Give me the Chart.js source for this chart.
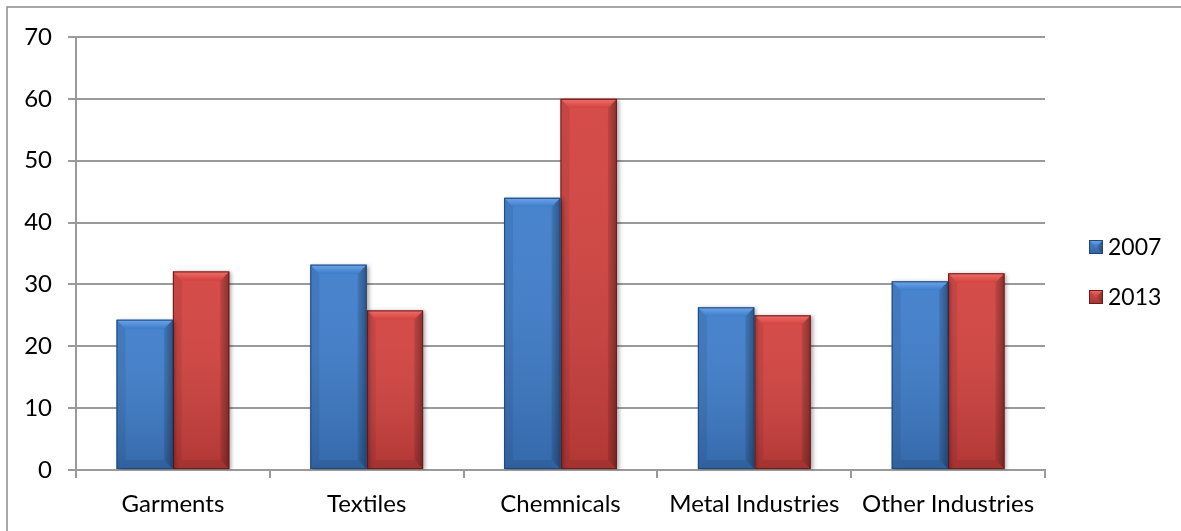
<!DOCTYPE html>
<html>
<head>
<meta charset="utf-8">
<script src="https://cdn.jsdelivr.net/npm/chart.js@4.4.1/dist/chart.umd.min.js"></script>
<style>
  html, body { margin: 0; padding: 0; background: #fff; }
  #wrap { width: 1181px; height: 531px; position: relative; }
</style>
</head>
<body>
<div id="wrap"><canvas id="c" width="1181" height="531"></canvas></div>
<script>
// Industry categories and yearly values
const categories = ['Garments', 'Textiles', 'Chemnicals', 'Metal Industries', 'Other Industries'];
const values2007 = [24.3, 33.2, 44.0, 26.3, 30.5];
const values2013 = [32.1, 25.8, 60.0, 25.0, 31.8];
const yTicks = [0, 10, 20, 30, 40, 50, 60, 70];

const FONT = 'Lato, "Open Sans", sans-serif';
const GRID = '#9a9a9a';

// Palette per series: base fill, light bevel, dark edge, outline
const palettes = [
  { base: '#3e7dcb', light: '#6fa6ea', dark: '#24548f', line: '#1d477d' },
  { base: '#d3423f', light: '#ee706b', dark: '#8e2322', line: '#6e1a1a' }
];

// Draw bevel shading on a rectangle (used for bars and legend keys)
function bevel(ctx, left, top, right, bottom, pal, b) {
  const w = right - left, h = bottom - top;
  b = Math.min(b, w / 2, h / 2);
  ctx.save();
  // vertical darkening toward the base
  let g = ctx.createLinearGradient(0, top, 0, bottom);
  g.addColorStop(0, 'rgba(255,255,255,0.05)');
  g.addColorStop(1, 'rgba(0,0,0,0.16)');
  ctx.fillStyle = g;
  ctx.fillRect(left, top, w, h);
  // left edge
  ctx.beginPath();
  ctx.moveTo(left, top); ctx.lineTo(left + b, top + b);
  ctx.lineTo(left + b, bottom - b); ctx.lineTo(left, bottom); ctx.closePath();
  ctx.fillStyle = 'rgba(0,0,0,0.07)';
  ctx.fill();
  // right edge
  ctx.beginPath();
  ctx.moveTo(right, top); ctx.lineTo(right - b, top + b);
  ctx.lineTo(right - b, bottom - b); ctx.lineTo(right, bottom); ctx.closePath();
  g = ctx.createLinearGradient(right - b, 0, right, 0);
  g.addColorStop(0, 'rgba(0,0,0,0.10)');
  g.addColorStop(1, 'rgba(0,0,0,0.36)');
  ctx.fillStyle = g;
  ctx.fill();
  // bottom edge
  ctx.beginPath();
  ctx.moveTo(left, bottom); ctx.lineTo(left + b, bottom - b);
  ctx.lineTo(right - b, bottom - b); ctx.lineTo(right, bottom); ctx.closePath();
  ctx.fillStyle = 'rgba(0,0,0,0.08)';
  ctx.fill();
  // top bevel
  ctx.beginPath();
  ctx.moveTo(left, top); ctx.lineTo(right, top);
  ctx.lineTo(right - b, top + b); ctx.lineTo(left + b, top + b); ctx.closePath();
  g = ctx.createLinearGradient(0, top, 0, top + b);
  g.addColorStop(0, pal.light);
  g.addColorStop(1, pal.base);
  ctx.fillStyle = g;
  ctx.fill();
  // outline
  ctx.strokeStyle = pal.line;
  ctx.lineWidth = 1;
  ctx.strokeRect(left + 0.5, top + 0.5, w - 1, h - 1);
  ctx.restore();
}

const barStyle = {
  id: 'barStyle',
  beforeDatasetDraw(chart) {
    const ctx = chart.ctx;
    ctx.save();
    ctx.shadowColor = 'rgba(0,0,0,0.35)';
    ctx.shadowBlur = 4;
    ctx.shadowOffsetX = 2;
    ctx.shadowOffsetY = 1;
  },
  afterDatasetDraw(chart, args) {
    const ctx = chart.ctx;
    ctx.restore();
    const pal = palettes[args.index];
    args.meta.data.forEach(el => {
      const p = el.getProps(['x', 'y', 'base', 'width'], true);
      bevel(ctx, p.x - p.width / 2, p.y, p.x + p.width / 2, p.base, pal, 9);
    });
  }
};

// Outer frame and the legend on the right
const frameAndLegend = {
  id: 'frameAndLegend',
  afterDraw(chart) {
    const ctx = chart.ctx;
    ctx.save();
    ctx.strokeStyle = '#8c8c8c';
    ctx.lineWidth = 1.5;
    ctx.beginPath();
    ctx.moveTo(7, 540); ctx.lineTo(7, 7); ctx.lineTo(1190, 7);
    ctx.stroke();

    ctx.font = '23px ' + FONT;
    ctx.textBaseline = 'middle';
    ctx.textAlign = 'left';
    const rows = [247, 297];
    chart.data.datasets.forEach((ds, i) => {
      const y = rows[i];
      ctx.fillStyle = palettes[i].base;
      ctx.fillRect(1089, y - 7, 14, 14);
      bevel(ctx, 1089, y - 7, 1103, y + 7, palettes[i], 6);
      ctx.fillStyle = '#000';
      ctx.fillText(ds.label, 1108, y + 1);
    });
    ctx.restore();
  }
};

new Chart(document.getElementById('c'), {
  type: 'bar',
  data: {
    labels: categories,
    datasets: [
      { label: '2007', data: values2007, backgroundColor: palettes[0].base, borderWidth: 0 },
      { label: '2013', data: values2013, backgroundColor: palettes[1].base, borderWidth: 0 }
    ]
  },
  options: {
    responsive: false,
    animation: false,
    devicePixelRatio: 1,
    layout: { padding: { left: 0, right: 136, top: 37, bottom: 0 } },
    datasets: { bar: { categoryPercentage: 0.582, barPercentage: 1.0 } },
    plugins: { legend: { display: false }, tooltip: { enabled: false } },
    scales: {
      x: {
        grid: { offset: true, drawOnChartArea: false, tickLength: 8, color: GRID, lineWidth: 2 },
        border: { display: true, color: GRID, width: 2 },
        ticks: { color: '#000', font: { family: FONT, size: 24 }, padding: 12, maxRotation: 0, autoSkip: false },
        afterFit(scale) { scale.height = 61; }
      },
      y: {
        min: 0, max: 70,
        afterBuildTicks(scale) { scale.ticks = yTicks.map(v => ({ value: v })); },
        grid: { color: GRID, lineWidth: 2, tickLength: 8 },
        border: { display: true, color: GRID, width: 2 },
        ticks: { color: '#000', font: { family: FONT, size: 24 }, padding: 16 },
        afterFit(scale) { scale.width = 76; }
      }
    }
  },
  plugins: [barStyle, frameAndLegend]
});
</script>
</body>
</html>
